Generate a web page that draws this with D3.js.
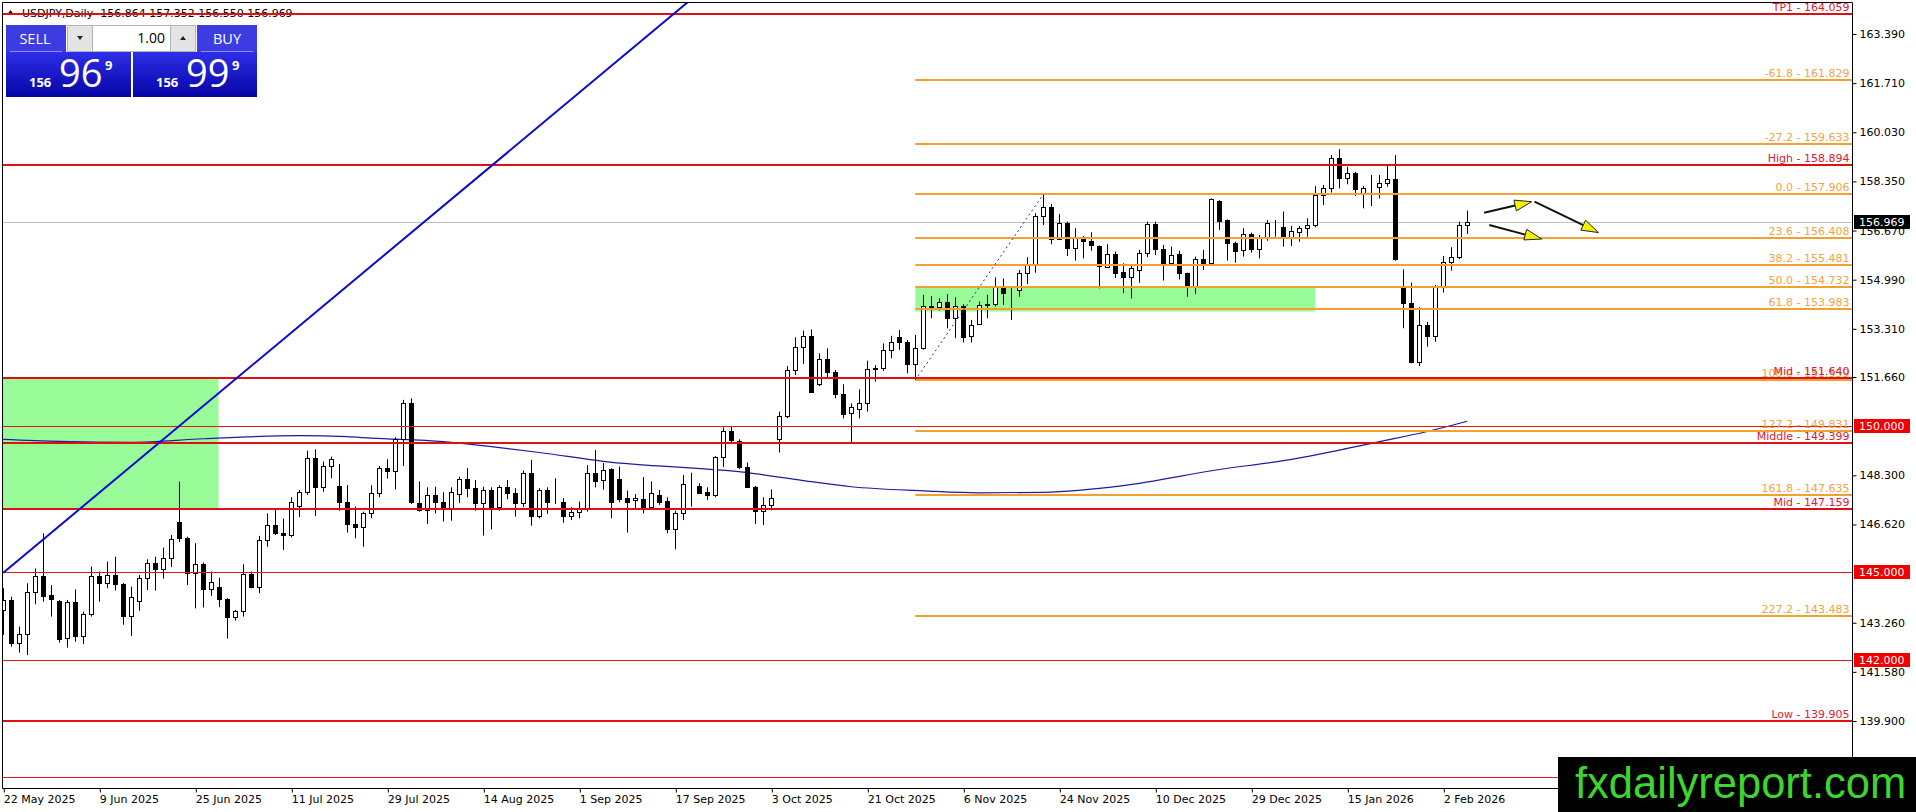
<!DOCTYPE html>
<html>
<head>
<meta charset="utf-8">
<script src="https://cdn.jsdelivr.net/npm/d3@7"></script>
<style>
  body { margin: 0; background: #fff; }
  svg { display: block; font-family: "DejaVu Sans", sans-serif; }
</style>
</head>
<body>
<svg id="chart" width="1916" height="812"></svg>
<script>
// daily candles, bar 0 = 22 May 2025, bar 183 = current
const opens = [143.70,144.04,142.56,142.87,144.32,144.86,144.20,144.00,142.73,143.98,142.79,143.55,144.86,144.61,144.89,144.59,143.50,144.02,144.78,145.29,145.11,145.46,146.69,146.15,144.95,145.27,144.40,144.47,144.06,143.45,143.67,144.92,144.47,146.09,146.59,146.32,146.25,147.25,147.72,148.88,147.89,148.62,147.94,147.38,146.64,146.52,147.00,147.69,148.54,148.46,149.53,150.76,147.34,147.12,147.62,147.38,147.14,147.66,148.16,147.86,147.37,147.80,147.21,147.89,147.69,147.34,148.37,146.92,147.80,147.40,147.40,146.92,147.06,147.17,148.37,148.14,148.51,148.17,147.52,147.44,147.48,147.23,147.64,147.42,146.48,147.00,147.99,147.94,147.73,147.64,148.92,149.80,149.49,148.60,147.91,147.08,147.29,149.53,150.34,151.90,152.68,153.08,151.41,152.27,151.82,151.07,150.42,150.56,150.76,151.93,151.96,152.59,153.04,152.87,152.10,152.64,154.09,154.05,154.22,153.67,154.10,153.06,153.46,154.13,154.16,154.78,154.55,154.62,155.23,155.49,157.17,157.47,156.37,156.92,156.06,156.46,156.31,156.14,155.44,155.87,155.25,155.09,155.32,155.91,156.89,156.03,155.57,155.87,155.21,154.78,155.69,155.55,157.68,157.03,156.23,156.01,156.54,156.03,156.40,156.86,156.78,156.44,156.63,156.75,156.86,157.89,158.14,159.14,158.46,158.63,157.97,158.11,158.15,158.29,158.42,154.73,154.18,152.19,153.44,153.06,154.77,155.61,155.75,156.864];
const highs = [144.44,144.15,143.13,144.61,145.12,146.32,144.55,144.04,144.04,144.40,143.64,145.18,145.01,145.35,145.52,144.62,144.49,144.89,145.43,145.52,145.83,146.26,148.08,146.20,145.98,145.32,145.01,144.80,144.10,143.70,145.26,145.01,146.23,147.00,147.17,146.82,147.55,147.80,149.14,149.19,148.77,148.94,148.69,147.97,147.23,147.06,147.96,148.62,148.85,149.60,150.88,150.93,148.09,147.89,147.91,147.72,147.89,148.26,148.55,148.14,147.91,147.89,147.96,148.14,147.86,148.46,148.83,147.86,147.89,148.20,147.52,147.21,147.40,148.65,149.17,148.72,148.54,148.60,147.78,147.66,148.24,148.09,147.80,147.55,147.09,148.31,148.39,148.03,147.89,148.96,149.94,149.99,149.53,148.74,147.94,147.55,147.82,150.48,152.04,153.02,153.25,153.29,152.47,152.64,151.90,151.41,150.76,151.24,152.22,152.07,152.81,153.07,153.27,152.93,153.10,154.47,154.43,154.35,154.50,154.39,154.15,153.61,154.24,154.47,155.07,155.03,154.70,155.32,155.76,157.26,157.91,157.58,157.24,156.98,156.75,156.48,156.61,156.16,156.20,155.95,155.55,155.49,156.01,156.97,156.97,156.18,156.12,155.98,155.23,155.78,156.01,157.77,157.71,157.05,156.29,156.75,156.60,156.52,157.03,157.03,157.32,156.83,156.83,157.09,158.19,158.23,159.25,159.45,158.85,158.68,158.19,158.57,158.57,158.91,159.25,155.34,154.89,154.05,153.55,154.81,155.80,156.10,156.97,157.352];
const lows = [142.84,142.44,142.24,142.15,143.89,143.98,143.47,142.58,142.41,142.61,142.53,143.47,143.98,144.44,144.36,143.19,142.81,143.67,144.38,144.36,144.77,145.16,146.02,144.55,143.75,143.78,144.18,143.79,142.72,143.33,143.47,144.44,144.27,145.86,146.26,145.75,146.18,146.87,147.63,146.91,147.74,148.20,147.09,146.34,146.15,145.86,146.83,147.55,148.19,147.82,148.62,147.32,147.06,146.64,147.00,146.72,146.75,147.35,147.55,147.09,146.24,146.45,147.09,147.48,146.89,147.21,146.58,146.83,146.98,147.32,146.68,146.77,146.83,147.06,147.89,147.81,146.83,147.38,146.34,147.12,147.00,147.14,147.29,146.32,145.77,146.77,147.23,147.66,147.46,147.55,148.58,149.42,148.51,147.89,146.64,146.60,147.10,149.08,150.25,151.73,152.11,151.12,151.35,151.62,150.93,150.25,149.42,150.25,150.48,151.50,151.87,152.30,152.59,151.79,151.56,152.60,153.67,153.93,153.33,152.99,152.84,152.84,153.44,153.67,154.07,154.13,153.61,154.41,154.84,155.23,156.86,156.20,156.35,155.80,155.64,155.72,155.98,154.69,155.41,155.04,154.53,154.35,154.89,155.76,155.83,154.96,155.49,155.00,154.41,154.50,155.32,155.53,156.69,155.64,155.57,155.78,155.91,155.72,156.32,156.46,156.12,156.14,156.29,156.46,156.78,157.54,157.97,158.11,158.25,157.85,157.43,157.51,157.77,158.17,155.64,153.33,152.13,152.04,152.70,152.87,154.55,155.30,155.69,156.550];
const closes = [144.04,142.58,142.87,144.32,144.86,144.19,144.06,142.71,143.98,142.79,143.55,144.86,144.61,144.89,144.58,143.50,144.13,144.78,145.29,145.11,145.46,146.11,146.15,144.95,145.27,144.40,144.64,144.06,143.45,143.65,144.92,144.49,146.09,146.59,146.32,146.25,147.40,147.72,148.88,147.89,148.62,148.85,147.38,146.63,146.52,147.00,147.69,148.54,148.46,149.53,150.76,147.40,147.12,147.62,147.38,147.14,147.74,148.16,147.86,147.37,147.80,147.21,147.89,147.69,147.34,148.37,146.92,147.80,147.40,147.38,146.92,147.06,147.17,148.37,148.12,148.48,147.40,147.49,147.40,147.52,147.23,147.69,147.40,146.48,147.00,147.99,148.00,147.71,147.64,148.92,149.80,149.51,148.60,147.91,147.08,147.29,147.52,150.34,151.90,152.68,153.08,151.16,152.27,151.82,151.07,150.40,150.63,150.76,151.93,151.98,152.59,152.87,152.87,152.10,152.64,154.09,154.05,154.22,153.67,154.10,153.04,153.44,154.13,154.16,154.78,154.55,154.53,155.23,155.49,157.17,157.47,156.37,156.92,156.06,156.44,156.31,156.17,155.46,155.87,155.23,155.09,155.38,155.91,156.89,156.03,155.57,155.82,155.21,154.78,155.69,155.53,157.74,157.01,156.23,155.98,156.55,156.03,156.40,156.92,156.85,156.44,156.67,156.77,156.86,157.89,158.14,159.14,158.46,158.63,158.08,158.11,158.14,158.29,158.42,155.69,154.18,152.19,153.44,153.06,154.77,155.61,155.75,156.86,156.969];

const tickBars = [0, 12, 24, 36, 48, 60, 72, 84, 96, 108, 120, 132, 144, 156, 168, 180];
const tickLabels = ["22 May 2025", "9 Jun 2025", "25 Jun 2025", "11 Jul 2025", "29 Jul 2025", "14 Aug 2025", "1 Sep 2025", "17 Sep 2025", "3 Oct 2025", "21 Oct 2025", "6 Nov 2025", "24 Nov 2025", "10 Dec 2025", "29 Dec 2025", "15 Jan 2026", "2 Feb 2026"];
const priceTicks = [163.39, 161.71, 160.03, 158.35, 156.67, 154.99, 153.31, 151.66, 148.30, 146.62, 143.26, 141.58, 139.90];

// moving average
const maBars = [-0.5, 7, 16, 25, 37, 43, 46, 55, 61, 67, 75, 93, 100, 106, 115, 122, 130, 140, 152, 160, 168, 172, 178, 183];
const maValues = [149.53, 149.46, 149.43, 149.55, 149.66, 149.62, 149.57, 149.45, 149.28, 149.08, 148.78, 148.39, 148.12, 147.91, 147.77, 147.70, 147.72, 147.95, 148.50, 148.80, 149.22, 149.45, 149.80, 150.15];

const redNames = ["TP1", "High", "Mid", "Middle", "Mid", "Low"];
const redPrices = [164.059, 158.894, 151.640, 149.399, 147.159, 139.905];
const roundLevels = [150, 145, 142, 138];
const boxedLevels = [150, 145, 142];

const fibRatios = ["-61.8", "-27.2", "0.0", "23.6", "38.2", "50.0", "61.8", "100.0", "127.2", "161.8", "227.2"];
const fibPrices = [161.829, 159.633, 157.906, 156.408, 155.481, 154.732, 153.983, 151.559, 149.831, 147.635, 143.483];
const fibStartBar = 114;
const fibAnchorBars = [114, 130];
const fibAnchorPrices = [151.559, 157.906];

const zoneBars = [[-0.5, 26.9], [114, 164]];
const zonePrices = [[147.159, 151.64], [153.90, 154.732]];

const trendBars = [0, 86];
const trendPrices = [144.97, 164.58];

const arrowFrom = [[185.1, 157.28], [191.4, 157.66], [185.75, 156.86]];
const arrowTo = [[191.05, 157.657], [199.4, 156.60], [192.3, 156.38]];

const currentPrice = 156.969;
const title = "USDJPY,Daily  156.864 157.352 156.550 156.969";

const svg = d3.select("#chart");
const plotLeft = 2.5, plotRight = 1852.5, plotTop = 2.5, plotBottom = 788.5;

const x = d3.scaleLinear().domain([0, 183]).range([3.3, 1467.3]);
const y = d3.scaleLinear().domain([139.9, 163.39]).range([721, 34]);
const sx = (b) => Math.round(x(b)) + 0.5;
const sy = (p) => Math.round(y(p)) + 0.5;

const defs = svg.append("defs");
defs.append("clipPath").attr("id", "plot")
  .append("rect").attr("x", plotLeft).attr("y", plotTop).attr("width", plotRight - plotLeft).attr("height", plotBottom - plotTop);
const grad = defs.append("linearGradient").attr("id", "priceGrad").attr("x1", 0).attr("y1", 0).attr("x2", 0).attr("y2", 1);
grad.append("stop").attr("offset", "0%").attr("stop-color", "#2e2ee8");
grad.append("stop").attr("offset", "100%").attr("stop-color", "#0505a6");

// title
svg.append("path").attr("d", "M7,15 L10.5,10 L14,15 Z").attr("fill", "#000");
svg.append("text").attr("x", 22).attr("y", 16.5).attr("font-size", 11).attr("fill", "#000").attr("xml:space", "preserve").text(title);

const plot = svg.append("g").attr("clip-path", "url(#plot)");

// zones
plot.selectAll("rect.zone")
  .data(zoneBars)
  .join("rect")
  .attr("class", "zone")
  .attr("x", (d) => x(d[0]))
  .attr("width", (d) => x(d[1]) - x(d[0]))
  .attr("y", (d, i) => y(zonePrices[i][1]))
  .attr("height", (d, i) => y(zonePrices[i][0]) - y(zonePrices[i][1]))
  .attr("fill", "#98fb98");

// current price line
plot.append("line")
  .attr("x1", plotLeft).attr("x2", plotRight)
  .attr("y1", sy(currentPrice)).attr("y2", sy(currentPrice))
  .attr("stroke", "#c0c0c0");

// moving average
plot.append("path")
  .datum(maBars.map((b, i) => [b, maValues[i]]))
  .attr("d", d3.line().x((d) => x(d[0])).y((d) => y(d[1])).curve(d3.curveMonotoneX))
  .attr("fill", "none")
  .attr("stroke", "#1c1ca0")
  .attr("stroke-width", 1.2);

// candles
const bars = opens.map((o, i) => ({ i, o, h: highs[i], l: lows[i], c: closes[i] }));
const candles = plot.append("g");
candles.selectAll("line")
  .data(bars)
  .join("line")
  .attr("x1", (d) => sx(d.i)).attr("x2", (d) => sx(d.i))
  .attr("y1", (d) => y(d.h)).attr("y2", (d) => y(d.l))
  .attr("stroke", "#000");
candles.selectAll("rect")
  .data(bars)
  .join("rect")
  .attr("x", (d) => sx(d.i) - 2)
  .attr("width", 4)
  .attr("y", (d) => sy(Math.max(d.o, d.c)))
  .attr("height", (d) => Math.abs(sy(d.o) - sy(d.c)))
  .attr("fill", (d) => (d.c >= d.o ? "#fff" : "#000"))
  .attr("stroke", "#000");

// round number lines
plot.selectAll("line.round")
  .data(roundLevels)
  .join("line")
  .attr("class", "round")
  .attr("x1", plotLeft).attr("x2", plotRight)
  .attr("y1", (d) => sy(d)).attr("y2", (d) => sy(d))
  .attr("stroke", "#e01818");

// fibonacci
plot.selectAll("line.fib")
  .data(fibPrices)
  .join("line")
  .attr("class", "fib")
  .attr("x1", x(fibStartBar)).attr("x2", plotRight)
  .attr("y1", (d) => Math.round(y(d))).attr("y2", (d) => Math.round(y(d)))
  .attr("stroke", "#f4a030")
  .attr("stroke-width", 2);
plot.selectAll("text.fib")
  .data(fibPrices)
  .join("text")
  .attr("class", "fib")
  .attr("x", plotRight - 3)
  .attr("y", (d) => Math.round(y(d)) - 3)
  .attr("text-anchor", "end")
  .attr("font-size", 11)
  .attr("fill", "#f0a444")
  .text((d, i) => `${fibRatios[i]} - ${d.toFixed(3)}`);
plot.append("line")
  .attr("x1", x(fibAnchorBars[0])).attr("y1", y(fibAnchorPrices[0]))
  .attr("x2", x(fibAnchorBars[1])).attr("y2", y(fibAnchorPrices[1]))
  .attr("stroke", "#2a2aa0")
  .attr("stroke-dasharray", "2,3");

// named red levels
plot.selectAll("line.red")
  .data(redPrices)
  .join("line")
  .attr("class", "red")
  .attr("x1", plotLeft).attr("x2", plotRight)
  .attr("y1", (d) => Math.round(y(d))).attr("y2", (d) => Math.round(y(d)))
  .attr("stroke", "#e01010")
  .attr("stroke-width", 2);
plot.selectAll("text.red")
  .data(redPrices)
  .join("text")
  .attr("class", "red")
  .attr("x", plotRight - 3)
  .attr("y", (d) => Math.round(y(d)) - 3)
  .attr("text-anchor", "end")
  .attr("font-size", 11)
  .attr("fill", "#e01830")
  .text((d, i) => `${redNames[i]} - ${d.toFixed(3)}`);

// blue trend line
plot.append("line")
  .attr("x1", x(trendBars[0])).attr("y1", y(trendPrices[0]))
  .attr("x2", x(trendBars[1])).attr("y2", y(trendPrices[1]))
  .attr("stroke", "#0a0ad0")
  .attr("stroke-width", 2);

// arrows
const arrows = svg.append("g");
arrowFrom.forEach((f, i) => {
  const t = arrowTo[i];
  const x0 = x(f[0]), y0 = y(f[1]), x1 = x(t[0]), y1 = y(t[1]);
  const ang = Math.atan2(y1 - y0, x1 - x0);
  const len = 17, half = 5.5;
  const bx = x1 - len * Math.cos(ang), by = y1 - len * Math.sin(ang);
  arrows.append("line")
    .attr("x1", x0).attr("y1", y0).attr("x2", bx).attr("y2", by)
    .attr("stroke", "#111").attr("stroke-width", 2);
  const pts = [
    [x1, y1],
    [bx - half * Math.sin(ang), by + half * Math.cos(ang)],
    [bx + half * Math.sin(ang), by - half * Math.cos(ang)],
  ];
  arrows.append("polygon")
    .attr("points", pts.map((p) => p.join(",")).join(" "))
    .attr("fill", "#f5f000")
    .attr("stroke", "#222")
    .attr("stroke-width", 1);
});

// frame
svg.append("line").attr("x1", plotLeft).attr("x2", plotRight).attr("y1", plotTop).attr("y2", plotTop).attr("stroke", "#000");
svg.append("line").attr("x1", plotLeft).attr("x2", plotLeft).attr("y1", plotTop).attr("y2", plotBottom).attr("stroke", "#000");

// axes
const yAxis = svg.append("g")
  .attr("transform", `translate(${plotRight},0)`)
  .call(d3.axisRight(y).tickValues(priceTicks).tickFormat(d3.format(".3f")).tickSize(4));
yAxis.select(".domain").remove();
yAxis.selectAll("line").attr("stroke", "#000");
yAxis.selectAll("text").attr("font-size", 11).attr("font-family", "DejaVu Sans").attr("fill", "#000");
svg.append("line").attr("x1", plotRight).attr("x2", plotRight).attr("y1", plotTop).attr("y2", plotBottom).attr("stroke", "#000");

const xAxis = svg.append("g")
  .attr("transform", `translate(0,${plotBottom})`)
  .call(d3.axisBottom(x).tickValues(tickBars).tickFormat((d, i) => tickLabels[i]).tickSize(4));
xAxis.select(".domain").remove();
xAxis.selectAll(".tick line").attr("transform", "translate(0.5,0)").attr("stroke", "#000");
xAxis.selectAll("text").attr("text-anchor", "start").attr("x", 0).attr("font-size", 11).attr("font-family", "DejaVu Sans").attr("fill", "#000");
svg.append("line").attr("x1", plotLeft).attr("x2", plotRight).attr("y1", plotBottom).attr("y2", plotBottom).attr("stroke", "#000");

// price boxes on the axis
const boxes = boxedLevels.map((p) => ({ p, bg: "#f00000" })).concat([{ p: currentPrice, bg: "#000" }]);
const boxG = svg.selectAll("g.pbox").data(boxes).join("g").attr("class", "pbox")
  .attr("transform", (d) => `translate(1854,${Math.round(y(d.p))})`);
boxG.append("rect").attr("x", 0).attr("y", -7).attr("width", 56).attr("height", 14).attr("fill", (d) => d.bg);
boxG.append("text").attr("x", 5).attr("y", 4).attr("font-size", 11).attr("fill", "#fff").text((d) => d.p.toFixed(3));

// one-click trading panel
const panel = svg.append("g").attr("font-family", "'Open Sans', 'Noto Sans', sans-serif");
panel.append("rect").attr("x", 6).attr("y", 25).attr("width", 60).attr("height", 27).attr("fill", "#3c3ce2");
panel.append("rect").attr("x", 197).attr("y", 25).attr("width", 60).attr("height", 27).attr("fill", "#3c3ce2");
panel.append("rect").attr("x", 6).attr("y", 52).attr("width", 125).attr("height", 45).attr("fill", "url(#priceGrad)");
panel.append("rect").attr("x", 133).attr("y", 52).attr("width", 124).attr("height", 45).attr("fill", "url(#priceGrad)");
panel.append("line").attr("x1", 10).attr("x2", 62).attr("y1", 51.5).attr("y2", 51.5).attr("stroke", "#8c8cf4");
panel.append("line").attr("x1", 201).attr("x2", 253).attr("y1", 51.5).attr("y2", 51.5).attr("stroke", "#8c8cf4");
panel.append("rect").attr("x", 67.5).attr("y", 25.5).attr("width", 25).attr("height", 26).attr("fill", "#e4e4e4").attr("stroke", "#b4b4b4");
panel.append("rect").attr("x", 92.5).attr("y", 25.5).attr("width", 78).attr("height", 26).attr("fill", "#fff").attr("stroke", "#b4b4b4");
panel.append("rect").attr("x", 170.5).attr("y", 25.5).attr("width", 25).attr("height", 26).attr("fill", "#e4e4e4").attr("stroke", "#b4b4b4");
panel.append("path").attr("d", "M77,36 L83,36 L80,40 Z").attr("fill", "#222");
panel.append("path").attr("d", "M180,40 L186,40 L183,36 Z").attr("fill", "#222");
panel.append("text").attr("x", 165).attr("y", 43).attr("text-anchor", "end").attr("font-size", 14).attr("fill", "#000").text("1.00");
panel.append("text").attr("x", 35).attr("y", 44).attr("text-anchor", "middle").attr("font-size", 14.5).attr("fill", "#fff").text("SELL");
panel.append("text").attr("x", 227).attr("y", 44).attr("text-anchor", "middle").attr("font-size", 14.5).attr("fill", "#fff").text("BUY");
const quotes = [{ x: 29, big: "96" }, { x: 156, big: "99" }];
quotes.forEach((q) => {
  panel.append("text").attr("x", q.x).attr("y", 87).attr("font-size", 13).attr("font-weight", "bold").attr("fill", "#fff").text("156");
  panel.append("text").attr("x", q.x + 30).attr("y", 87).attr("font-size", 38).attr("fill", "#fff").text(q.big);
  panel.append("text").attr("x", q.x + 76).attr("y", 70).attr("font-size", 13).attr("font-weight", "bold").attr("fill", "#fff").text("9");
});

// watermark
svg.append("rect").attr("x", 1558).attr("y", 757).attr("width", 358).attr("height", 55).attr("fill", "#000");
svg.append("text")
  .attr("x", 1575).attr("y", 798)
  .attr("font-family", "'Liberation Sans', Arial, sans-serif")
  .attr("font-size", 43.5)
  .attr("fill", "#3cd62c")
  .text("fxdailyreport.com");
</script>
</body>
</html>
